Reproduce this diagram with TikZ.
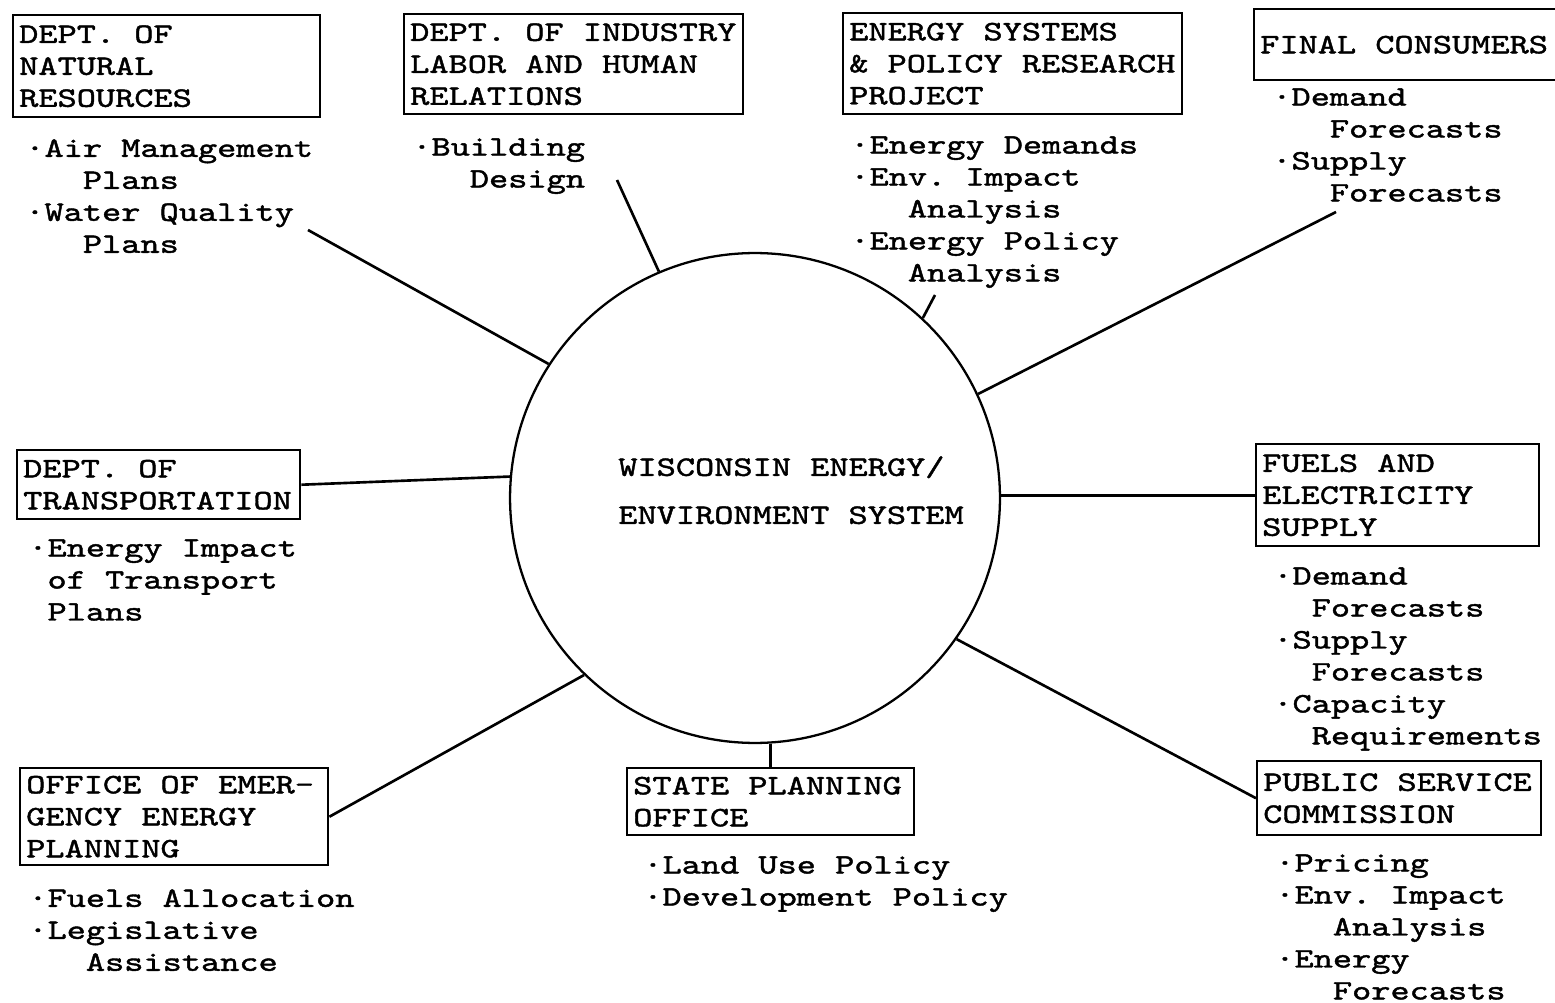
\documentclass[tikz,border=0pt]{standalone}
\usepackage{fontspec}
\usepackage{tikz}
\newfontfamily\typew{lmmono10-regular}[Extension=.otf, FakeStretch=1.3, FakeBold=1.5]
\frenchspacing
\tikzset{
    hub/.style={circle, draw, line width=1.3pt, minimum size=9.8cm, inner sep=0pt},
    hubtext/.style={anchor=north west, inner sep=0pt, align=left, font=\typew\fontsize{16}{27.3}\selectfont},
    office/.style 2 args={rectangle, draw, line width=1.4pt, anchor=north west, align=flush left, inner xsep=0.12cm, inner ysep=0.04cm, text width=#1, minimum height=#2, font=\typew\fontsize{16}{18.2}\selectfont},
    tasks/.style={anchor=north west, inner sep=0pt, align=left, font=\typew\fontsize{16}{18.2}\selectfont},
    link/.style={line width=1.5pt}
}
\begin{document}
\begin{tikzpicture}[x=0.02cm, y=-0.02cm]
    \useasboundingbox (0,0) rectangle (1555,1003);
    \node[hub] (circ) at (755,498) {};
    \node[hubtext] (ttl) at (618,456) {WISCONSIN ENERGY/\\ENVIRONMENT SYSTEM};
    % offices round the system
    \node[office={5.9cm}{2.04cm}] (dnr) at (12,14) {DEPT. OF\\NATURAL\\RESOURCES};
    \node[office={6.54cm}{2.0cm}] (ind) at (403,13) {DEPT. OF INDUSTRY\\LABOR AND HUMAN\\RELATIONS};
    \node[office={6.54cm}{2.02cm}] (esp) at (842,12) {ENERGY SYSTEMS\\\& POLICY RESEARCH\\PROJECT};
    \node[office={5.8cm}{1.42cm}] (fin) at (1253,8) {FINAL CONSUMERS};
    \node[office={5.42cm}{1.38cm}] (trans) at (16,449) {DEPT. OF\\TRANSPORTATION};
    \node[office={5.42cm}{2.04cm}] (fuel) at (1255,443) {FUELS AND\\ELECTRICITY\\SUPPLY};
    \node[office={5.92cm}{1.94cm}] (emer) at (19,767) {OFFICE OF EMER-\\GENCY ENERGY\\PLANNING};
    \node[office={5.5cm}{1.34cm}] (state) at (626,767) {STATE PLANNING\\OFFICE};
    \node[office={5.44cm}{1.48cm}] (psc) at (1256,760) {PUBLIC SERVICE\\COMMISSION};
    % what each office does
    \node[tasks] (dnrtasks) at (25,139) {·Air Management\\\hphantom{xxx}Plans\\·Water Quality\\\hphantom{xxx}Plans};
    \node[tasks] (indtasks) at (412,138) {·Building\\\hphantom{xxx}Design};
    \node[tasks] (esptasks) at (850,136) {·Energy Demands\\·Env. Impact\\\hphantom{xxx}Analysis\\·Energy Policy\\\hphantom{xxx}Analysis};
    \node[tasks] (fintasks) at (1272,88) {·Demand\\\hphantom{xxx}Forecasts\\·Supply\\\hphantom{xxx}Forecasts};
    \node[tasks] (transtasks) at (28,539) {·Energy Impact\\\hphantom{x}of Transport\\\hphantom{x}Plans};
    \node[tasks] (fueltasks) at (1273,567) {·Demand\\\hphantom{xx}Forecasts\\·Supply\\\hphantom{xx}Forecasts\\·Capacity\\\hphantom{xx}Requirements};
    \node[tasks] (emertasks) at (28,889) {·Fuels Allocation\\·Legislative\\\hphantom{xxx}Assistance};
    \node[tasks] (statetasks) at (643,856) {·Land Use Policy\\·Development Policy};
    \node[tasks] (psctasks) at (1275,854) {·Pricing\\·Env. Impact\\\hphantom{xxx}Analysis\\·Energy\\\hphantom{xxx}Forecasts};
    \coordinate (dnrtip) at (308,230);
    \coordinate (indtip) at (617,180);
    \coordinate (esptip) at (935,295);
    \coordinate (fintip) at (1336,212);
    \draw[link] (dnrtip) -- (circ.147.4);
    \draw[link] (indtip) -- (circ.113.7);
    \draw[link] (esptip) -- (circ.47.8);
    \draw[link] (fintip) -- (circ.25.5);
    \draw[link] (trans.east) -- (circ.175.3);
    \draw[link] (fuel.west) -- (fuel.west -| circ.east);
    \draw[link] (emer.east) -- (circ.226.8);
    \draw[link] (state.north) -- (state.north |- circ.south);
    \draw[link] (psc.west) -- (circ.325.4);
\end{tikzpicture}
\end{document}
